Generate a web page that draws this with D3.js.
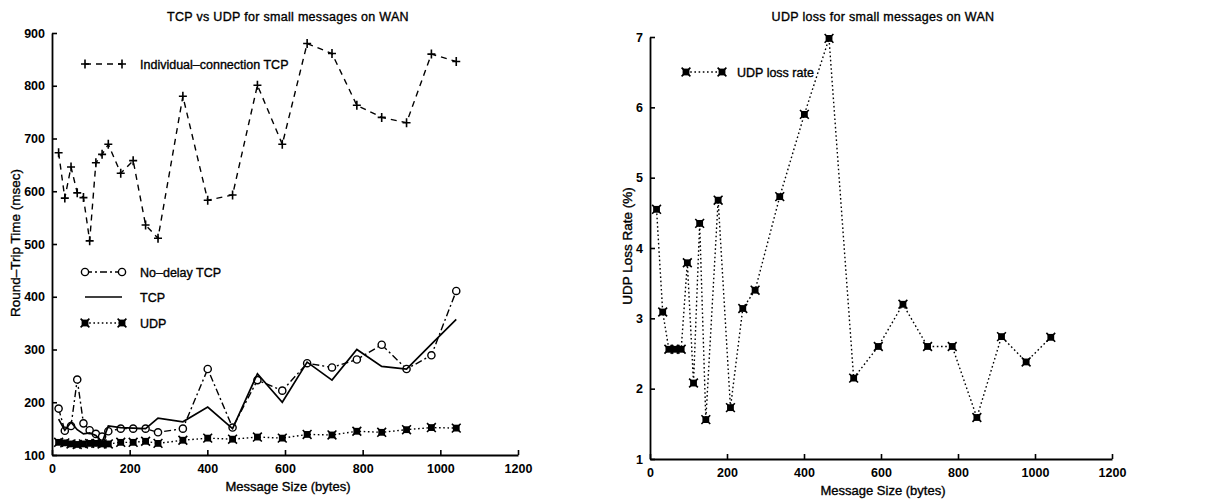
<!DOCTYPE html>
<html>
<head>
<meta charset="utf-8">
<script src="https://cdn.jsdelivr.net/npm/d3@7"></script>
<style>
  html, body { margin: 0; padding: 0; background: #fff; }
  svg text { font-family: "Liberation Sans", Arial, sans-serif; fill: #000; stroke: #000; stroke-width: 0.35px; }
</style>
</head>
<body>
<svg id="chart" width="1218" height="502"></svg>
<script>
// Message sizes (bytes) at which every measurement was taken
const sizes = [17, 33, 49, 65, 81, 97, 113, 129, 145, 177, 209, 241, 273, 337, 401, 465, 529, 593, 657, 721, 785, 849, 913, 977, 1041];

// Round-trip times (msec)
const individualTcp = [673, 587, 646, 597, 588, 506, 654, 670, 689, 634, 658, 536, 511, 780, 583, 593, 801, 689, 880, 861, 763, 740, 730, 860, 846];
const noDelayTcp    = [188, 146, 155, 243, 160, 147, 140, 135, 145, 150, 150, 150, 143, 150, 263, 152, 242, 222, 274, 266, 281, 309, 263, 289, 411];
const tcp           = [168, 147, 162, 148, 140, 142, 137, 124, 155, 152, 151, 150, 170, 163, 191, 150, 254, 200, 276, 242, 300, 268, 263, 310, 357];
const udp           = [124, 123, 121, 120, 121, 122, 122, 121, 121, 124, 124, 126, 122, 128, 132, 130, 134, 132, 139, 138, 145, 143, 148, 152, 151];

// UDP loss rate (%)
const udpLoss = [4.55, 3.09, 2.56, 2.56, 2.56, 3.79, 2.08, 4.35, 1.56, 4.68, 1.73, 3.14, 3.40, 4.73, 5.90, 6.98, 2.15, 2.60, 3.20, 2.60, 2.60, 1.59, 2.74, 2.38, 2.73];

// Axis ticks
const xTicks = [0, 200, 400, 600, 800, 1000, 1200];
const rttTicks = [100, 200, 300, 400, 500, 600, 700, 800, 900];
const lossTicks = [1, 2, 3, 4, 5, 6, 7];

const svg = d3.select("#chart");

// Marker painters
function plus(g, x, y) {
  g.append("path").attr("d", `M${x-4},${y}H${x+4}M${x},${y-4.5}V${y+4.5}`)
    .attr("stroke", "#000").attr("stroke-width", 1.6).attr("fill", "none");
}
function circle(g, x, y) {
  g.append("circle").attr("cx", x).attr("cy", y).attr("r", 3.6)
    .attr("fill", "#fff").attr("stroke", "#000").attr("stroke-width", 1.4);
}
function xsquare(g, x, y) {
  g.append("rect").attr("x", x - 3.4).attr("y", y - 3.4).attr("width", 6.8).attr("height", 6.8).attr("fill", "#000");
  g.append("path").attr("d", `M${x-4.4},${y-4.4}L${x+4.4},${y+4.4}M${x-4.4},${y+4.4}L${x+4.4},${y-4.4}`)
    .attr("stroke", "#000").attr("stroke-width", 1.6);
}

function panel(opts) {
  const g = svg.append("g");
  const x = d3.scaleLinear().domain([0, 1200]).range(opts.xRange);
  const y = d3.scaleLinear().domain(opts.yDomain).range(opts.yRange);

  // axes with inward ticks
  const fmt = d3.format("d");
  const xAxis = d3.axisBottom(x).tickValues(xTicks).tickFormat(fmt).tickSize(-5).tickPadding(9).tickSizeOuter(0);
  const yAxis = d3.axisLeft(y).tickValues(opts.yTicks).tickFormat(fmt).tickSize(-5).tickPadding(7).tickSizeOuter(0);
  const gx = g.append("g").attr("transform", `translate(0,${opts.yRange[0]})`).call(xAxis);
  const gy = g.append("g").attr("transform", `translate(${opts.xRange[0]},0)`).call(yAxis);
  [gx, gy].forEach(a => {
    a.select(".domain").attr("stroke", "#000").attr("stroke-width", 1.8);
    a.selectAll(".tick line").attr("stroke", "#000").attr("stroke-width", 1.6);
    a.selectAll(".tick text").attr("font-size", 12.5).attr("font-weight", "bold").style("stroke-width", "0px");
  });

  // series
  opts.series.forEach(s => {
    const pts = sizes.map((v, i) => [x(v), y(s.values[i])]);
    g.append("path").datum(pts)
      .attr("d", d3.line())
      .attr("fill", "none").attr("stroke", "#000")
      .attr("stroke-width", s.width || 1.4)
      .attr("stroke-dasharray", s.dash || null);
    if (s.marker) pts.forEach(p => s.marker(g, p[0], p[1]));
  });

  // legends
  opts.legend.forEach(l => {
    g.append("line").attr("x1", l.x1).attr("x2", l.x2).attr("y1", l.y).attr("y2", l.y)
      .attr("stroke", "#000").attr("stroke-width", l.s.width || 1.4).attr("stroke-dasharray", l.s.dash || null);
    if (l.s.marker) { l.s.marker(g, l.x1, l.y); l.s.marker(g, l.x2, l.y); }
    g.append("text").attr("x", l.tx).attr("y", l.y + 4.5).attr("font-size", 12.5).text(l.label);
  });

  // titles
  g.append("text").attr("x", opts.titleX).attr("y", 21).attr("text-anchor", "middle")
    .attr("font-size", 12.5).attr("letter-spacing", 0.3).text(opts.title);
  g.append("text").attr("x", opts.titleX).attr("y", opts.xLabelY).attr("text-anchor", "middle")
    .attr("font-size", 13).text("Message Size (bytes)");
  g.append("text").attr("transform", `translate(${opts.yLabelX},${opts.yLabelCY}) rotate(-90)`)
    .attr("text-anchor", "middle").attr("font-size", 13.5).text(opts.yLabel);
}

const sIndiv = { values: individualTcp, dash: "6,5", marker: plus };
const sNoDelay = { values: noDelayTcp, dash: "7,3,2,3", marker: circle };
const sTcp = { values: tcp, width: 1.7 };
const sUdp = { values: udp, dash: "1.6,2.6", marker: xsquare };
const sLoss = { values: udpLoss, dash: "1.6,2.6", marker: xsquare };

panel({
  xRange: [52, 518], yDomain: [100, 900], yRange: [455, 33], yTicks: rttTicks,
  series: [sIndiv, sNoDelay, sTcp, sUdp],
  legend: [
    { s: sIndiv, x1: 85, x2: 122, y: 64, tx: 140, label: "Individual\u2013connection TCP" },
    { s: sNoDelay, x1: 85, x2: 122, y: 272, tx: 140, label: "No\u2013delay TCP" },
    { s: sTcp, x1: 85, x2: 122, y: 297, tx: 140, label: "TCP" },
    { s: sUdp, x1: 85, x2: 122, y: 323, tx: 140, label: "UDP" }
  ],
  title: "TCP vs UDP for small messages on WAN", titleX: 288, xLabelY: 491,
  yLabel: "Round\u2013Trip Time (msec)", yLabelX: 20, yLabelCY: 243
});

panel({
  xRange: [650, 1112], yDomain: [1, 7], yRange: [459, 37], yTicks: lossTicks,
  series: [sLoss],
  legend: [
    { s: sLoss, x1: 686, x2: 722, y: 72, tx: 737, label: "UDP loss rate" }
  ],
  title: "UDP loss for small messages on WAN", titleX: 883, xLabelY: 495,
  yLabel: "UDP Loss Rate (%)", yLabelX: 632, yLabelCY: 246
});
</script>
</body>
</html>
